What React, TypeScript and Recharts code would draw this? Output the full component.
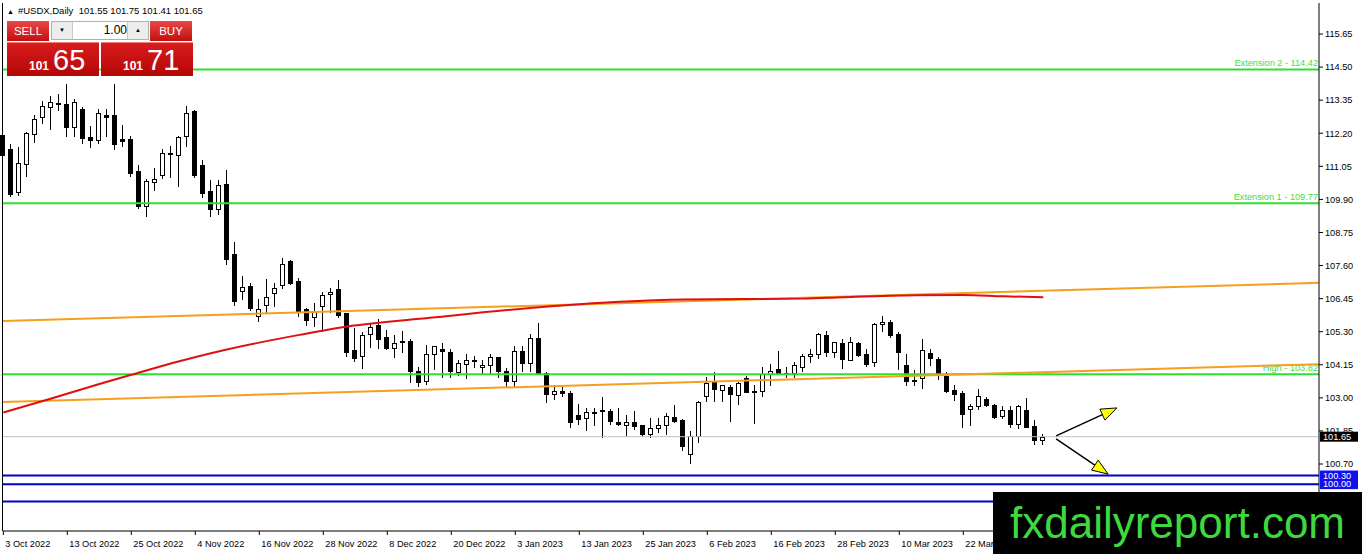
import React from "react";
import { ComposedChart, Bar, Line, XAxis, YAxis, ReferenceLine } from "recharts";

const FONT = "'Liberation Sans', Arial, sans-serif";

// ---- categories (trading days) ----
const dates = [
  "3 Oct 2022","4 Oct 2022","5 Oct 2022","6 Oct 2022","7 Oct 2022","10 Oct 2022","11 Oct 2022","12 Oct 2022","13 Oct 2022","14 Oct 2022",
  "17 Oct 2022","18 Oct 2022","19 Oct 2022","20 Oct 2022","21 Oct 2022","24 Oct 2022","25 Oct 2022","26 Oct 2022","27 Oct 2022","28 Oct 2022","31 Oct 2022",
  "1 Nov 2022","2 Nov 2022","3 Nov 2022","4 Nov 2022","7 Nov 2022","8 Nov 2022","9 Nov 2022","10 Nov 2022","11 Nov 2022","14 Nov 2022",
  "15 Nov 2022","16 Nov 2022","17 Nov 2022","18 Nov 2022","21 Nov 2022","22 Nov 2022","23 Nov 2022","24 Nov 2022","25 Nov 2022","28 Nov 2022","29 Nov 2022","30 Nov 2022",
  "1 Dec 2022","2 Dec 2022","5 Dec 2022","6 Dec 2022","7 Dec 2022","8 Dec 2022","9 Dec 2022","12 Dec 2022","13 Dec 2022","14 Dec 2022",
  "15 Dec 2022","16 Dec 2022","19 Dec 2022","20 Dec 2022","21 Dec 2022","22 Dec 2022","23 Dec 2022","27 Dec 2022","28 Dec 2022","29 Dec 2022","30 Dec 2022",
  "3 Jan 2023","4 Jan 2023","5 Jan 2023","6 Jan 2023","9 Jan 2023","10 Jan 2023","11 Jan 2023","12 Jan 2023","13 Jan 2023","16 Jan 2023",
  "17 Jan 2023","18 Jan 2023","19 Jan 2023","20 Jan 2023","23 Jan 2023","24 Jan 2023","25 Jan 2023","26 Jan 2023","27 Jan 2023","30 Jan 2023","31 Jan 2023",
  "1 Feb 2023","2 Feb 2023","3 Feb 2023","6 Feb 2023","7 Feb 2023","8 Feb 2023","9 Feb 2023","10 Feb 2023","13 Feb 2023","14 Feb 2023",
  "15 Feb 2023","16 Feb 2023","17 Feb 2023","20 Feb 2023","21 Feb 2023","22 Feb 2023","23 Feb 2023","24 Feb 2023","27 Feb 2023","28 Feb 2023",
  "1 Mar 2023","2 Mar 2023","3 Mar 2023","6 Mar 2023","7 Mar 2023","8 Mar 2023","9 Mar 2023","10 Mar 2023","13 Mar 2023","14 Mar 2023",
  "15 Mar 2023","16 Mar 2023","17 Mar 2023","20 Mar 2023","21 Mar 2023","22 Mar 2023","23 Mar 2023","24 Mar 2023","27 Mar 2023","28 Mar 2023",
  "29 Mar 2023","30 Mar 2023","31 Mar 2023","3 Apr 2023","4 Apr 2023","5 Apr 2023",
];

// ---- OHLC series ----
const open = [
  112.15,111.64,110.16,111.14,112.19,112.75,113.12,113.24,113.20,112.40,
  113.06,112.07,111.98,112.85,112.83,111.99,111.99,110.88,109.67,110.50,
  110.74,111.50,111.46,112.11,112.98,111.09,110.18,109.58,110.42,108.00,
  106.71,106.88,105.84,106.23,106.65,106.91,107.77,107.08,106.09,105.80,
  106.18,106.60,106.77,105.94,104.66,104.47,105.22,105.54,105.13,104.75,
  104.98,104.98,103.95,103.60,104.51,104.70,104.61,103.89,104.16,104.33,
  104.06,104.13,104.41,103.95,103.60,104.64,104.20,105.08,103.86,103.12,
  103.23,103.17,102.40,102.30,102.52,102.55,102.54,102.16,102.04,102.15,
  102.04,101.74,101.95,102.04,102.33,102.23,101.05,101.66,103.06,103.54,
  103.27,103.38,103.09,103.68,103.25,103.24,103.82,103.99,103.87,103.86,
  104.09,104.45,104.54,105.19,104.58,104.91,104.32,104.91,104.51,104.23,
  105.57,105.65,105.22,104.15,103.62,103.69,104.56,104.35,103.77,103.27,
  103.18,102.62,102.73,102.97,102.76,102.38,102.57,102.10,102.57,102.03,
  101.55,
];
const high = [
  112.50,111.84,111.72,112.25,112.85,113.32,113.50,113.55,113.90,113.39,
  113.10,112.44,113.06,113.06,113.90,112.50,112.10,111.11,110.60,110.99,
  111.64,111.75,112.11,113.14,113.00,111.26,110.59,110.59,110.93,108.41,
  107.25,107.00,106.44,107.13,107.00,107.87,107.80,107.16,106.13,106.30,
  106.68,106.82,107.11,105.96,105.43,105.30,105.57,105.73,105.36,105.17,
  105.34,105.04,104.09,104.83,104.80,104.90,104.70,104.30,104.52,104.47,
  104.33,104.51,104.43,104.04,104.80,104.81,105.22,105.60,103.90,103.43,
  103.38,103.23,102.78,102.66,102.66,103.03,102.62,102.66,102.40,102.56,
  102.06,102.30,102.30,102.47,102.75,102.27,101.85,102.89,103.73,103.89,
  103.45,103.43,103.54,103.77,103.45,104.07,104.19,104.64,104.06,104.23,
  104.52,104.71,105.26,105.34,104.95,105.05,105.10,104.93,104.70,105.60,
  105.86,105.69,105.30,104.51,103.96,105.05,104.70,104.41,103.89,103.45,
  103.23,102.79,103.31,103.02,102.78,102.70,102.70,102.75,102.99,102.24,
  101.75,
];
const low = [
  111.40,110.02,110.07,110.71,111.90,112.57,112.34,113.00,112.10,112.10,
  111.86,111.72,111.86,112.10,111.64,111.76,110.70,109.60,109.34,110.21,
  110.64,110.68,110.37,111.76,110.68,109.98,109.32,109.40,107.66,106.23,
  106.42,106.07,105.66,105.95,106.18,106.82,106.96,105.86,105.54,105.49,
  105.33,105.98,105.80,104.47,104.29,104.04,104.78,104.75,104.70,104.41,
  104.58,103.54,103.40,103.48,103.99,103.74,103.74,103.81,103.68,104.06,
  103.86,103.84,103.71,103.40,103.40,103.93,103.93,103.84,102.87,102.96,
  103.06,102.00,102.10,101.89,102.06,101.63,102.10,102.04,101.69,101.90,
  101.69,101.63,101.83,101.74,102.15,101.19,100.73,101.45,102.89,102.89,
  102.89,102.19,102.80,103.19,102.14,103.06,103.45,103.83,103.71,103.71,
  103.93,104.23,104.37,104.47,104.41,104.04,104.30,104.45,104.12,104.12,
  105.31,105.11,104.00,103.45,103.45,103.36,104.15,103.64,103.19,102.94,
  101.98,102.06,102.62,102.73,102.30,102.30,101.98,101.95,101.97,101.39,
  101.41,
];
const close = [
  111.43,110.10,111.18,112.22,112.71,113.14,113.27,113.22,112.42,113.27,
  112.04,111.98,112.89,112.77,111.82,111.93,110.82,109.66,110.53,110.62,
  111.53,111.48,112.07,112.92,110.74,110.12,109.58,110.39,107.83,106.36,
  106.87,106.13,106.09,106.50,106.82,107.66,107.00,105.98,105.71,106.03,
  106.57,106.68,105.88,104.58,104.37,105.20,105.45,105.06,104.75,104.90,
  104.96,103.95,103.54,104.54,104.79,104.62,103.93,104.20,104.33,104.31,
  104.13,104.43,103.93,103.60,104.62,104.20,105.07,103.86,103.15,103.23,
  103.17,102.16,102.25,102.51,102.50,102.57,102.19,102.10,102.15,102.01,
  101.74,101.95,102.04,102.36,102.21,101.31,101.67,102.86,103.50,103.31,
  103.43,103.12,103.50,103.22,103.23,103.82,103.95,103.84,103.85,104.15,
  104.47,104.54,105.22,104.58,104.93,104.35,104.93,104.48,104.19,105.57,
  105.65,105.17,104.58,103.57,103.60,104.67,104.38,103.82,103.23,103.15,
  102.43,102.73,103.08,102.76,102.33,102.59,102.10,102.73,102.00,101.53,
  101.65,
];

// ---- moving average (read at sample bars) ----
const maIndex = [0, 6, 12, 16, 22, 27, 32, 37, 42, 54, 67, 77, 85, 100, 105, 114, 120, 125, 130];
const maValue = [102.49, 102.98, 103.48, 103.8, 104.27, 104.62, 104.92, 105.19, 105.44, 105.8, 106.15, 106.34, 106.42, 106.45, 106.5, 106.57, 106.58, 106.53, 106.5];

// ---- axes ----
const priceTicks = [100.7, 101.85, 103.0, 104.15, 105.3, 106.45, 107.6, 108.75, 109.9, 111.05, 112.2, 113.35, 114.5, 115.65];
const dateTicks = [0, 8, 16, 24, 32, 40, 48, 56, 64, 72, 80, 88, 96, 104, 112, 120];
const xDomain = [-0.04, 164.46];
const yDomain = [98.371, 116.728];

// ---- drawn objects ----
const extensionLevels = [114.42, 109.77, 103.82];
const extensionLabels = ["Extension 2 - 114.42", "Extension 1 - 109.77", "High - 103.82"];
const supportLevels = [100.3, 100.0, 99.4];
const supportLabels = ["100.30", "100.00", ""];
const lastPrice = 101.65;
const channelUpper = [{ x: -0.04, y: 105.67 }, { x: 164.46, y: 107.0 }];
const channelLower = [{ x: -0.04, y: 102.86 }, { x: 164.46, y: 104.17 }];
const arrowUp = [{ x: 131.6, y: 101.68 }, { x: 139.2, y: 102.65 }];
const arrowDown = [{ x: 131.6, y: 101.57 }, { x: 138.1, y: 100.35 }];

const candles = dates.map((d, i) => ({
  i,
  date: d,
  open: open[i],
  high: high[i],
  low: low[i],
  close: close[i],
  range: [low[i], high[i]],
}));
const maData = maIndex.map((i, k) => ({ i, ma: maValue[k] }));

const Candle = (props: any) => {
  const { x, y, width, height, payload } = props;
  if (x == null || y == null || !payload) return null;
  const o = payload.open, c = payload.close, h = payload.high, l = payload.low;
  const top = Math.min(y, y + height);
  const span = Math.abs(height);
  const ppu = h > l ? span / (h - l) : 0;
  const cx = Math.floor(x + width / 2);
  const yHigh = Math.round(top);
  const yLow = Math.round(top + span);
  const bt = Math.round(top + (h - Math.max(o, c)) * ppu);
  const bb = Math.round(top + (h - Math.min(o, c)) * ppu);
  const bull = c >= o;
  return (
    <g>
      <line x1={cx + 0.5} x2={cx + 0.5} y1={yHigh} y2={yLow + 1} stroke="#000" strokeWidth={1} />
      {bull ? (
        <rect x={cx - 1.5} y={bt + 0.5} width={4} height={Math.max(bb - bt, 1)} fill="#fff" stroke="#000" strokeWidth={1} />
      ) : (
        <rect x={cx - 2} y={bt} width={5} height={Math.max(bb - bt + 1, 2)} fill="#000" />
      )}
    </g>
  );
};

const DateTick = (props: any) => {
  const { x, y, payload } = props;
  return (
    <text x={x + 2} y={y + 10} fontSize={9.2} fontFamily={FONT} fill="#000" textAnchor="start">
      {dates[payload.value] ?? ""}
    </text>
  );
};

const levelLabel = (text: string) => (p: any) => {
  const vb = p.viewBox || {};
  return (
    <text x={vb.x + vb.width - 1} y={vb.y - 3} fontSize={9.2} fontFamily={FONT} fill="#3ee03e" textAnchor="end">
      {text}
    </text>
  );
};

const priceBox = (text: string, fill: string) => (p: any) => {
  const vb = p.viewBox || {};
  if (!text) return null;
  const bx = vb.x + vb.width + 1;
  return (
    <g>
      <rect x={bx} y={vb.y - 5} width={38} height={10} fill={fill} />
      <text x={bx + 3} y={vb.y} dy="0.36em" fontSize={9.2} fontFamily={FONT} fill="#fff">
        {text}
      </text>
    </g>
  );
};

const ArrowShape = (p: any) => {
  const { x1, y1, x2, y2 } = p;
  if ([x1, y1, x2, y2].some((v) => v == null || isNaN(v))) return null;
  const dx = x2 - x1, dy = y2 - y1;
  const len = Math.sqrt(dx * dx + dy * dy) || 1;
  const ux = dx / len, uy = dy / len;
  const hl = 16, hw = 6;
  const bx = x2 - ux * hl, by = y2 - uy * hl;
  const px = -uy, py = ux;
  const pts = `${x2},${y2} ${bx + px * hw},${by + py * hw} ${bx - px * hw},${by - py * hw}`;
  return (
    <g>
      <line x1={x1} y1={y1} x2={bx} y2={by} stroke="#000" strokeWidth={1.5} />
      <polygon points={pts} fill="#ffff00" stroke="#000" strokeWidth={1} />
    </g>
  );
};

const redBtn: React.CSSProperties = {
  position: "absolute",
  background: "linear-gradient(#e84848, #c40e0e)",
  color: "#fff",
  fontFamily: FONT,
  fontSize: 11.5,
  textAlign: "center",
  lineHeight: "20px",
};
const bigBox: React.CSSProperties = {
  position: "absolute",
  top: 42,
  width: 92,
  height: 34,
  background: "linear-gradient(#d81c1c, #b50606)",
  color: "#fff",
  fontFamily: FONT,
  borderTop: "1px solid #f08080",
  boxSizing: "border-box",
};

export default function App() {
  return (
    <div style={{ position: "absolute", left: 0, top: 0, width: 1362, height: 554, background: "#fff", overflow: "hidden" }}>
      <ComposedChart width={1362} height={554} data={candles} margin={{ top: 3, right: 0, bottom: 0, left: 3 }}>
        <XAxis
          dataKey="i"
          type="number"
          domain={xDomain}
          ticks={dateTicks}
          interval={0}
          height={23}
          tickSize={4}
          tick={DateTick}
          axisLine={{ stroke: "#000" }}
          tickLine={{ stroke: "#000" }}
        />
        <YAxis
          orientation="right"
          type="number"
          domain={yDomain}
          ticks={priceTicks}
          interval={0}
          width={43}
          tickSize={4}
          tickMargin={2}
          tickFormatter={(v: number) => v.toFixed(2)}
          tick={{ fontSize: 9.2, fill: "#000", fontFamily: FONT }}
          axisLine={{ stroke: "#000" }}
          tickLine={{ stroke: "#000" }}
        />
        <ReferenceLine y={lastPrice} stroke="#c0c0c0" strokeWidth={1} label={priceBox("101.65", "#000")} />
        {supportLevels.map((v, k) => (
          <ReferenceLine key={"s" + k} y={v} stroke="#0000c8" strokeWidth={2} label={priceBox(supportLabels[k], "#1010f0")} />
        ))}
        {extensionLevels.map((v, k) => (
          <ReferenceLine key={"e" + k} y={v} stroke="#2ee02e" strokeWidth={2} label={levelLabel(extensionLabels[k])} />
        ))}
        <ReferenceLine segment={channelUpper} stroke="#f5a01a" strokeWidth={2} ifOverflow="visible" />
        <ReferenceLine segment={channelLower} stroke="#f5a01a" strokeWidth={2} ifOverflow="visible" />
        <Line data={maData} dataKey="ma" type="monotone" stroke="#e01010" strokeWidth={2} dot={false} isAnimationActive={false} />
        <Bar dataKey="range" barSize={5} shape={Candle} isAnimationActive={false} />
        <ReferenceLine segment={arrowUp} ifOverflow="visible" shape={ArrowShape} />
        <ReferenceLine segment={arrowDown} ifOverflow="visible" shape={ArrowShape} />
      </ComposedChart>

      {/* left frame */}
      <div style={{ position: "absolute", left: 2, top: 3, width: 1, height: 528, background: "#000" }} />

      {/* title */}
      <div style={{ position: "absolute", left: 7, top: 4, fontFamily: FONT, fontSize: 9.5, color: "#000", whiteSpace: "pre", lineHeight: "13px" }}>
        <span style={{ fontSize: 7, marginRight: 4 }}>▲</span>#USDX,Daily  101.55 101.75 101.41 101.65
      </div>

      {/* trade panel */}
      <div style={{ ...redBtn, left: 7, top: 21, width: 42, height: 20 }}>SELL</div>
      <div style={{ position: "absolute", left: 51, top: 21, width: 98, height: 19, background: "#fff", border: "1px solid #b0b0b0", boxSizing: "border-box" }}>
        <div style={{ position: "absolute", left: 0, top: 0, width: 20, height: 17, background: "#ececec", borderRight: "1px solid #c8c8c8", fontSize: 6, textAlign: "center", lineHeight: "17px" }}>▼</div>
        <div style={{ position: "absolute", left: 21, top: 0, width: 54, height: 17, textAlign: "right", fontFamily: FONT, fontSize: 12, lineHeight: "17px", color: "#000" }}>1.00</div>
        <div style={{ position: "absolute", right: 0, top: 0, width: 20, height: 17, background: "#ececec", borderLeft: "1px solid #c8c8c8", fontSize: 6, textAlign: "center", lineHeight: "17px" }}>▲</div>
      </div>
      <div style={{ ...redBtn, left: 150, top: 21, width: 42, height: 20 }}>BUY</div>
      <div style={{ ...bigBox, left: 7 }}>
        <span style={{ position: "absolute", left: 22, top: 16, fontSize: 12, fontWeight: "bold", lineHeight: "14px" }}>101</span>
        <span style={{ position: "absolute", left: 46, top: 0, fontSize: 29, lineHeight: "34px" }}>65</span>
      </div>
      <div style={{ ...bigBox, left: 101 }}>
        <span style={{ position: "absolute", left: 22, top: 16, fontSize: 12, fontWeight: "bold", lineHeight: "14px" }}>101</span>
        <span style={{ position: "absolute", left: 46, top: 0, fontSize: 29, lineHeight: "34px" }}>71</span>
      </div>

      {/* watermark */}
      <div style={{ position: "absolute", left: 993, top: 492, width: 369, height: 62, background: "#000" }}>
        <span style={{ position: "absolute", left: 17, top: 0, fontFamily: FONT, fontSize: 44, lineHeight: "62px", color: "#3fd83f", whiteSpace: "nowrap" }}>
          fxdailyreport.com
        </span>
      </div>
    </div>
  );
}
